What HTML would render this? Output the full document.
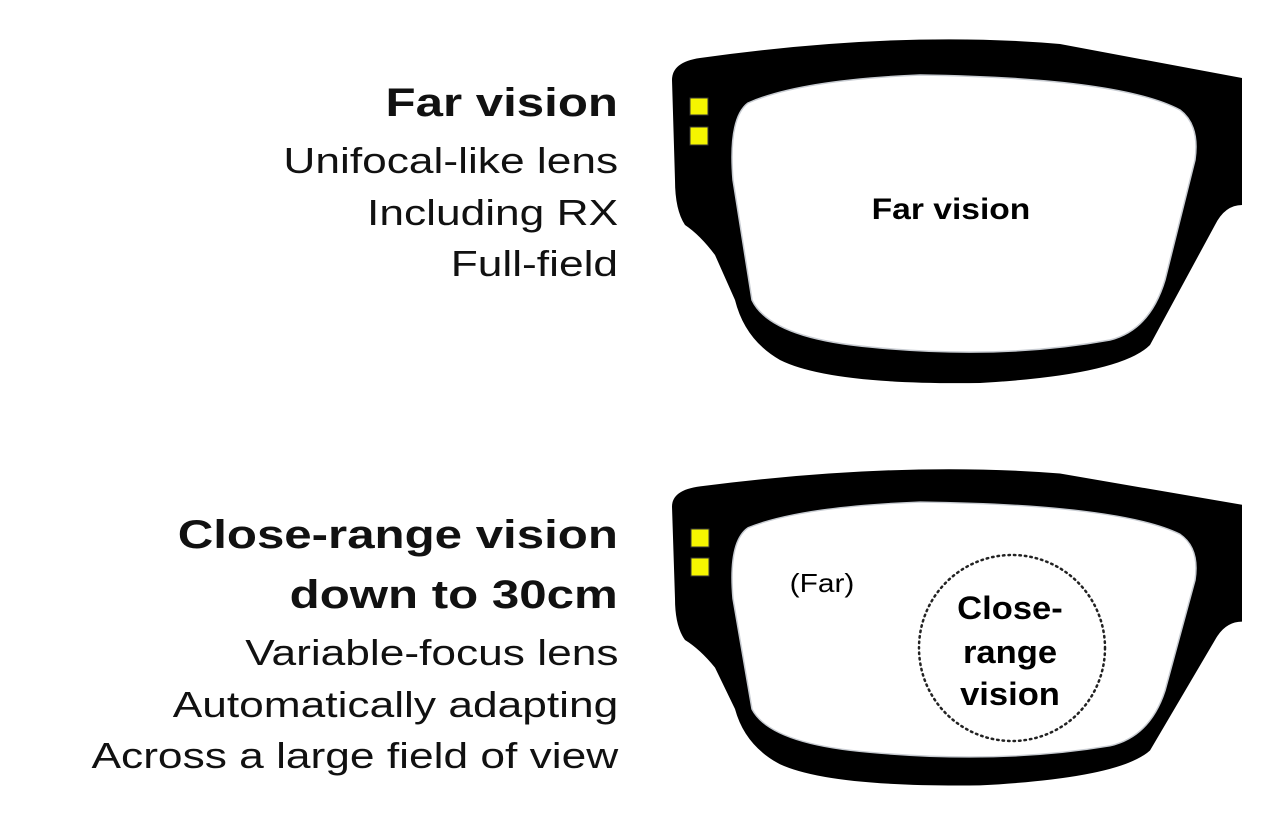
<!DOCTYPE html>
<html><head><style>
body{margin:0;background:#fff;width:1280px;height:838px;overflow:hidden;position:relative;font-family:"Liberation Sans",sans-serif;}
.t{position:absolute;right:662px;text-align:right;color:#111;white-space:nowrap;transform:scaleX(1.23);transform-origin:right center;}
.b{font-weight:bold;font-size:40px;}
.l{font-size:36px;font-weight:normal;}
</style></head><body>
<div class="t b" style="top:81px">Far vision</div>
<div class="t l" style="top:140px">Unifocal-like lens</div>
<div class="t l" style="top:192px">Including RX</div>
<div class="t l" style="top:243px">Full-field</div>

<div class="t b" style="top:513px">Close-range vision</div>
<div class="t b" style="top:573px">down to 30cm</div>
<div class="t l" style="top:632px">Variable-focus lens</div>
<div class="t l" style="top:684px">Automatically adapting</div>
<div class="t l" style="top:735px">Across a large field of view</div>

<svg width="1280" height="838" style="position:absolute;left:0;top:0">
<defs>
<g id="fr">
<path fill="#000" d="M 672 80 Q 672 62 700 58 Q 900 30 1060 44 L 1242 78 L 1242 205 Q 1225 205 1215 225 L 1150 345 Q 1120 375 980 383 Q 830 385 780 360 Q 745 340 735 300 L 715 255 Q 700 235 685 225 Q 675 210 675 180 Z"/>
<path fill="#fff" stroke="#c8ccd2" stroke-width="1.5" d="M 748 103 Q 800 80 920 75 Q 1120 78 1180 110 Q 1200 125 1195 160 L 1165 280 Q 1150 330 1110 340 Q 1000 360 870 347 Q 770 338 752 300 L 733 180 Q 728 118 748 103 Z"/>
</g>
</defs>
<use href="#fr"/>
<rect x="690" y="98" width="18" height="17" fill="#f5f500" stroke="#333" stroke-width="1"/>
<rect x="690" y="127" width="18" height="18" fill="#f5f500" stroke="#333" stroke-width="1"/>
<text x="951" y="219" font-size="30" font-weight="bold" text-anchor="middle" font-family="Liberation Sans, sans-serif" transform="translate(951,0) scale(1.12,1) translate(-951,0)">Far vision</text>

<g transform="translate(0,468) scale(1,0.92) translate(0,-38)"><use href="#fr"/></g>
<rect x="691" y="529" width="18" height="18" fill="#f5f500" stroke="#333" stroke-width="1"/>
<rect x="691" y="558" width="18" height="18" fill="#f5f500" stroke="#333" stroke-width="1"/>
<text x="822" y="592" font-size="26" text-anchor="middle" font-family="Liberation Sans, sans-serif" transform="translate(822,0) scale(1.15,1) translate(-822,0)">(Far)</text>
<ellipse cx="1012" cy="648" rx="93" ry="93" fill="none" stroke="#222" stroke-width="2.5" stroke-dasharray="1.5 4" stroke-linecap="round"/>
<g font-size="32" font-weight="bold" text-anchor="middle" font-family="Liberation Sans, sans-serif" transform="translate(1010,0) scale(1.08,1) translate(-1010,0)">
<text x="1010" y="619">Close-</text>
<text x="1010" y="663">range</text>
<text x="1010" y="705">vision</text>
</g>
</svg>
</body></html>
